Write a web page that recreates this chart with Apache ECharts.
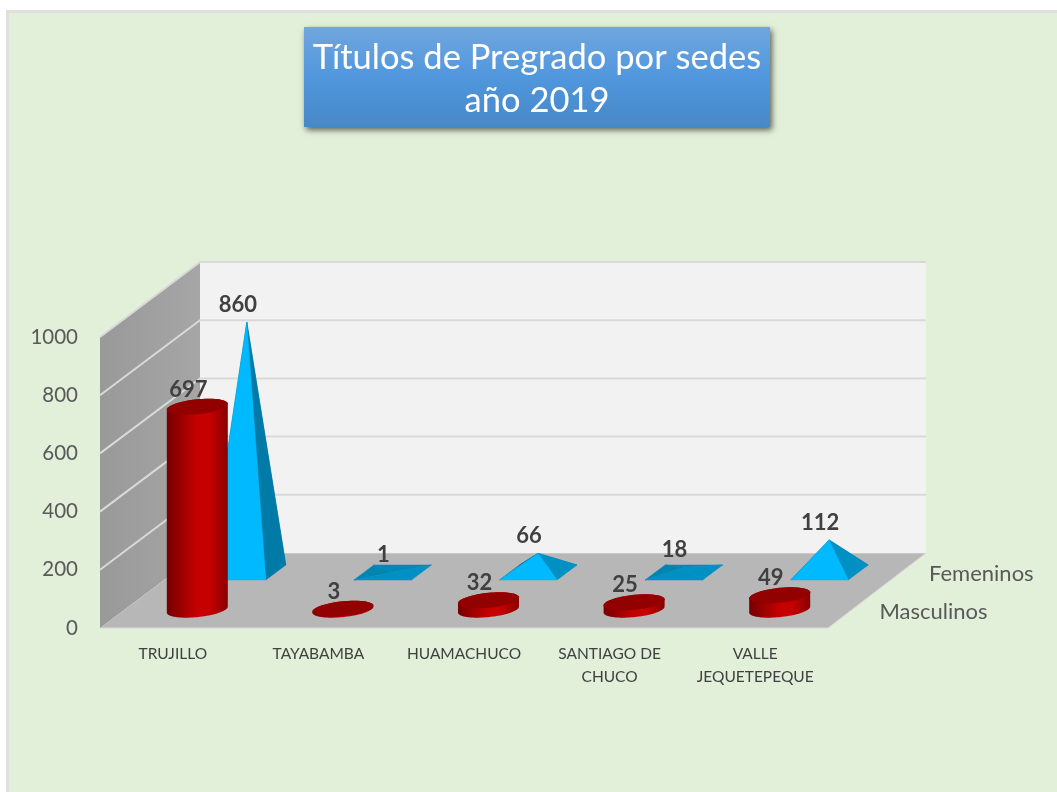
<!DOCTYPE html>
<html>
<head>
<meta charset="utf-8">
<title>Títulos de Pregrado por sedes</title>
<script src="https://cdn.jsdelivr.net/npm/echarts@6/dist/echarts.min.js"></script>
<style>
  html, body { margin: 0; padding: 0; background: #fff; }
  #main { width: 1057px; height: 792px; }
</style>
</head>
<body>
<div id="main"></div>
<script>
var sedes = ['TRUJILLO', 'TAYABAMBA', 'HUAMACHUCO', 'SANTIAGO DE\nCHUCO', 'VALLE\nJEQUETEPEQUE'];
var masculinos = [697, 3, 32, 25, 49];
var femeninos = [860, 1, 66, 18, 112];
var yTicks = [0, 200, 400, 600, 800, 1000];

// fake 3D: how far back a row sits, as a fraction of the floor depth
var FLOOR_DX = 100, FLOOR_DY = 75;
var DEPTH_MASC = 0.245, DEPTH_FEM = 0.74;
var FONT = 'Lato, "Open Sans", sans-serif';

function shift(p, depth) {
    return [p[0] + depth * FLOOR_DX, p[1] - depth * FLOOR_DY];
}

function valueLabel(x, y, val) {
    return {
        type: 'text',
        z2: 50,
        style: {
            x: x - 9, y: y - 17, text: String(val), fill: '#404040',
            font: 'bold 22px ' + FONT, align: 'center', verticalAlign: 'middle'
        }
    };
}

function renderWalls(params, api) {
    var cs = params.coordSys;
    var left = cs.x, right = cs.x + cs.width;
    var backRight = right + FLOOR_DX - 2;
    var y0 = api.coord([0, 0])[1];
    var yTop = api.coord([0, yTicks[yTicks.length - 1]])[1];
    var kids = [];
    // floor
    kids.push({
        type: 'polygon',
        shape: {points: [[left, y0], [right, y0], [backRight, y0 - FLOOR_DY], [left + FLOOR_DX, y0 - FLOOR_DY]]},
        style: {fill: '#b7b7b7', stroke: '#d9d9d9', lineWidth: 1}
    });
    // back wall
    kids.push({
        type: 'rect',
        shape: {x: left + FLOOR_DX, y: yTop - FLOOR_DY, width: backRight - left - FLOOR_DX, height: y0 - yTop},
        style: {fill: '#f2f2f2'}
    });
    // left wall
    kids.push({
        type: 'polygon',
        shape: {points: [[left, y0], [left + FLOOR_DX, y0 - FLOOR_DY], [left + FLOOR_DX, yTop - FLOOR_DY], [left, yTop]]},
        style: {
            fill: new echarts.graphic.LinearGradient(0, 0, 1, 0, [
                {offset: 0, color: '#999999'}, {offset: 1, color: '#a6a6a6'}
            ])
        }
    });
    yTicks.forEach(function (t) {
        var y = api.coord([0, t])[1];
        if (t > 0) {
            kids.push({
                type: 'polyline',
                shape: {points: [[left, y], [left + FLOOR_DX, y - FLOOR_DY], [backRight, y - FLOOR_DY]]},
                style: {fill: null, stroke: '#d9d9d9', lineWidth: 2}
            });
        }
    });
    // row names on the depth axis
    [['Masculinos', DEPTH_MASC, 612], ['Femeninos', DEPTH_FEM, 574]].forEach(function (r) {
        kids.push({
            type: 'text',
            style: {
                x: right + r[1] * FLOOR_DX + 27, y: r[2], text: r[0], fill: '#595959',
                font: '22px ' + FONT, align: 'left', verticalAlign: 'middle'
            }
        });
    });
    return {type: 'group', children: kids};
}

function renderPyramid(params, api) {
    var val = api.value(1);
    var base = shift(api.coord([api.value(0), 0]), DEPTH_FEM);
    var top = shift(api.coord([api.value(0), val]), DEPTH_FEM);
    var cx = base[0], cy = base[1];
    var fl = [cx - 38.5, cy + 7.5], fr = [cx + 19, cy + 7.5];
    var br = [cx + 39, cy - 7.5], bl = [cx - 18.5, cy - 7.5];
    var tip = [top[0], top[1]];
    var flat = cy - tip[1] < 7.5;   // tip stays inside the base: seen from above
    var face = function (a, b, c, color) {
        return {type: 'polygon', shape: {points: [a, b, c]}, style: {fill: color, stroke: color, lineWidth: 0.5}};
    };
    return {
        type: 'group',
        children: [
            face(bl, br, tip, flat ? '#0088b8' : '#0080ac'),
            face(bl, fl, tip, flat ? '#0084b0' : '#006f96'),
            face(fr, br, tip, val < 200 ? '#0090c4' : '#007aa6'),
            face(fl, fr, tip, flat ? '#0090c2' : '#00b9ff'),
            valueLabel(tip[0], tip[1], val)
        ]
    };
}

function ellipsePoints(cx, cy, from, to) {
    var pts = [];
    for (var i = 0; i <= 40; i++) {
        var t = from + (to - from) * i / 40;
        pts.push([cx + 30.5 * Math.cos(t), cy + 7.5 * Math.sin(t) - 3 * Math.cos(t)]);
    }
    return pts;
}

function renderCylinder(params, api) {
    var val = api.value(1);
    var base = shift(api.coord([api.value(0), 0]), DEPTH_MASC);
    var top = shift(api.coord([api.value(0), val]), DEPTH_MASC);
    var body = ellipsePoints(base[0], base[1], 0, Math.PI)
        .concat(ellipsePoints(top[0], top[1], Math.PI, 2 * Math.PI));
    return {
        type: 'group',
        children: [
            {
                type: 'polygon',
                shape: {points: body},
                style: {
                    fill: new echarts.graphic.LinearGradient(0, 0, 1, 0, [
                        {offset: 0, color: '#760000'},
                        {offset: 0.5, color: '#c60000'},
                        {offset: 0.7, color: '#c60000'},
                        {offset: 1, color: '#8a0000'}
                    ])
                }
            },
            {
                type: 'polygon',
                shape: {points: ellipsePoints(top[0], top[1], 0, 2 * Math.PI)},
                style: {fill: '#920000'}
            },
            valueLabel(top[0], top[1], val)
        ]
    };
}

var chart = echarts.init(document.getElementById('main'));
chart.setOption({
    animation: false,
    backgroundColor: '#ffffff',
    graphic: [
        {
            type: 'rect', z: -10,
            shape: {x: 7.5, y: 11.5, width: 1060, height: 800},
            style: {fill: '#e2efd9', stroke: '#e0e0e0', lineWidth: 3}
        },
        {
            type: 'rect', z: -5,
            shape: {x: 304, y: 27, width: 466, height: 100},
            style: {
                fill: new echarts.graphic.LinearGradient(0, 0, 0, 1, [
                    {offset: 0, color: '#71a6de'},
                    {offset: 0.5, color: '#5097dd'},
                    {offset: 1, color: '#4788c8'}
                ]),
                shadowBlur: 6, shadowOffsetX: 2, shadowOffsetY: 3, shadowColor: 'rgba(0,0,0,0.6)'
            }
        }
    ],
    title: {
        text: 'Títulos de Pregrado por sedes\naño 2019',
        left: 537,
        top: 36,
        textAlign: 'center',
        padding: 0,
        textStyle: {
            color: '#ffffff', fontFamily: FONT, fontSize: 34.5, fontWeight: 'normal', lineHeight: 43
        }
    },
    grid: {left: 100, right: 229, top: 337, bottom: 164},
    xAxis: {
        type: 'category',
        data: sedes,
        axisLine: {show: false},
        axisTick: {show: false},
        axisLabel: {
            interval: 0, margin: 14, fontFamily: FONT, fontSize: 15.5, color: '#404040', lineHeight: 23
        }
    },
    yAxis: {
        type: 'value',
        min: 0,
        max: 1000,
        interval: 200,
        axisLine: {show: false},
        axisTick: {show: false},
        splitLine: {show: false},
        axisLabel: {
            margin: 22, fontFamily: FONT, fontSize: 20.5, color: '#595959', padding: [6, 0, 0, 0],
            formatter: function (v) { return String(v); }
        }
    },
    series: [
        {
            type: 'custom', name: 'walls', silent: true, clip: false,
            renderItem: renderWalls,
            data: [[0, 0]]
        },
        {
            type: 'custom', name: 'Femeninos', clip: false,
            renderItem: renderPyramid,
            data: femeninos.map(function (v, i) { return [i, v]; })
        },
        {
            type: 'custom', name: 'Masculinos', clip: false,
            renderItem: renderCylinder,
            data: masculinos.map(function (v, i) { return [i, v]; })
        }
    ]
});
</script>
</body>
</html>
